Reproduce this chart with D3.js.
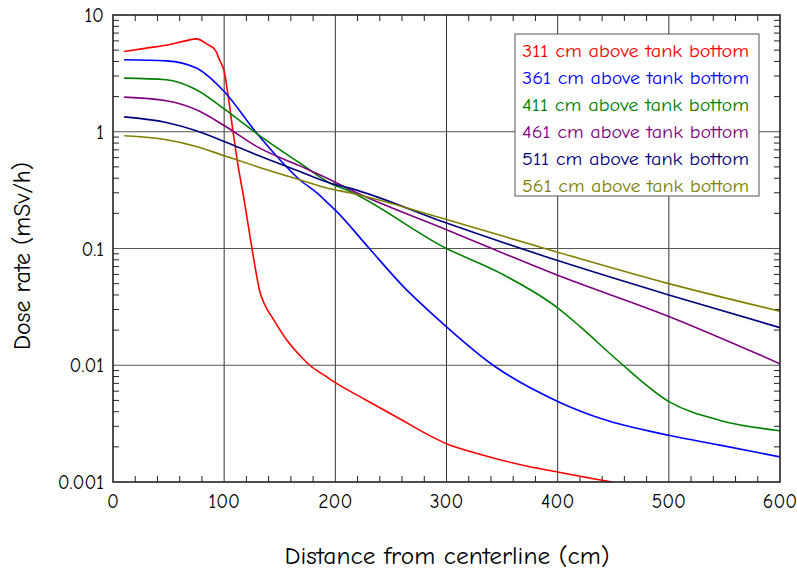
<!DOCTYPE html>
<html><head><meta charset="utf-8">
<script src="https://cdn.jsdelivr.net/npm/d3@7"></script>
<style>body{margin:0;background:#fff}svg{display:block}text{font-family:"Comic Sans MS","Comic Neue","Open Sans",sans-serif}</style>
</head><body><svg id="c" width="797" height="572"></svg>
<script>
const seriesNames = ["311 cm above tank bottom","361 cm above tank bottom","411 cm above tank bottom","461 cm above tank bottom","511 cm above tank bottom","561 cm above tank bottom"];
const seriesColors = ["#ff0000","#0000ff","#008000","#800080","#000080","#808000"];
const s311x = [10,30,50,65,75,85,92,96,100,104,108,112.7,118,125,129,132,136.5,144,156,170,177,191,200,225,255,300,330,375,400,420,449];
const s311y = [4.87,5.2,5.56,6.0,6.25,5.6,5.0,4.1,3.3,1.9,1.0,0.5,0.26,0.1,0.06,0.043,0.033,0.025,0.0166,0.0116,0.01,0.0081,0.0071,0.0052,0.0036,0.00213,0.00173,0.00135,0.00122,0.00112,0.001];
const s361x = [10,48,75,100,129,168,186,190,200,231,261,293,342,400,441,501,546,600];
const s361y = [4.14,4.05,3.51,2.21,0.98,0.388,0.285,0.262,0.213,0.099,0.0474,0.0245,0.01,0.0049,0.00344,0.0025,0.00207,0.00164];
const s411x = [10,48,75,100,129,168,195,210,300,348,400,420,453,501,546,600];
const s411y = [2.88,2.79,2.29,1.57,0.97,0.54,0.364,0.318,0.1,0.0618,0.031,0.0215,0.0112,0.00483,0.00337,0.00275];
const s461x = [10,48,75,100,129,168,195,213,300,400,500,600];
const s461y = [1.98,1.84,1.54,1.13,0.75,0.51,0.39,0.32,0.145,0.059,0.0262,0.0103];
const s511x = [10,48,75,100,129,168,195,213,300,400,500,600];
const s511y = [1.34,1.2,1.02,0.826,0.635,0.457,0.364,0.329,0.165,0.0788,0.04,0.021];
const s561x = [10,48,75,100,129,168,195,213,300,400,500,600];
const s561y = [0.924,0.854,0.749,0.623,0.505,0.388,0.325,0.30,0.177,0.093,0.05,0.029];
const xTicks = [0,100,200,300,400,500,600];
const yTicks = [0.001,0.01,0.1,1,10];
const yTickLabels = ["0.001","0.01","0.1","1","10"];
const xLabel = "Distance from centerline (cm)";
const yLabel = "Dose rate (mSv/h)";

const allX = [s311x,s361x,s411x,s461x,s511x,s561x];
const allY = [s311y,s361y,s411y,s461y,s511y,s561y];

const L=113,R=780,T=15,B=482;
const svg = d3.select("#c");
const x = d3.scaleLinear().domain([0,600]).range([L,R]);
const y = d3.scaleLog().domain([0.001,10]).range([B,T]);

// grid
const g = svg.append("g");
g.selectAll(".vg").data(xTicks.slice(1,-1)).enter().append("line")
 .attr("x1",d=>x(d)).attr("x2",d=>x(d)).attr("y1",T).attr("y2",B)
 .attr("stroke","#333").attr("stroke-width",1);
g.selectAll(".hg").data(yTicks.slice(1,-1)).enter().append("line")
 .attr("x1",L).attr("x2",R).attr("y1",d=>y(d)).attr("y2",d=>y(d))
 .attr("stroke","#555").attr("stroke-width",1.2);

// minor ticks
const xMinor = d3.range(0,601,20).filter(v=>v%100!==0);
const yMinor = [];
for (const dec of [0.001,0.01,0.1,1]) for (let k=2;k<=9;k++) yMinor.push(dec*k);
const tk = svg.append("g").attr("stroke","#222").attr("stroke-width",1);
xMinor.forEach(v=>{
  tk.append("line").attr("x1",x(v)).attr("x2",x(v)).attr("y1",B).attr("y2",B-6);
  tk.append("line").attr("x1",x(v)).attr("x2",x(v)).attr("y1",T).attr("y2",T+6);
});
yMinor.forEach(v=>{
  tk.append("line").attr("x1",L).attr("x2",L+6).attr("y1",y(v)).attr("y2",y(v));
  tk.append("line").attr("x1",R).attr("x2",R-6).attr("y1",y(v)).attr("y2",y(v));
});

// series
const line = d3.line().x(d=>x(d[0])).y(d=>y(d[1])).curve(d3.curveMonotoneX);
svg.append("clipPath").attr("id","pc").append("rect").attr("x",L).attr("y",T).attr("width",R-L).attr("height",B-T);
allX.forEach((xs,i)=>{
  const pts = xs.map((v,j)=>[v,allY[i][j]]);
  svg.append("path").attr("d",line(pts)).attr("fill","none")
   .attr("stroke",seriesColors[i]).attr("stroke-width",1.6).attr("clip-path","url(#pc)");
});

// frame
svg.append("rect").attr("x",L).attr("y",T).attr("width",R-L).attr("height",B-T)
 .attr("fill","none").attr("stroke","#222").attr("stroke-width",1.6);

// tick labels
svg.selectAll(".xl").data(xTicks).enter().append("text")
 .attr("x",d=>x(d)).attr("y",B+26).attr("text-anchor","middle")
 .attr("font-size",19.5).attr("fill","#000").text(d=>d);
svg.selectAll(".yl").data(yTicks).enter().append("text")
 .attr("x",L-9).attr("y",d=>y(d)+7).attr("text-anchor","end")
 .attr("font-size",19.5).attr("fill","#000").text((d,i)=>yTickLabels[i]);

// axis titles
svg.append("text").attr("x",447).attr("y",564).attr("text-anchor","middle")
 .attr("font-size",24).attr("textLength",325).attr("lengthAdjust","spacingAndGlyphs").text(xLabel);
svg.append("text").attr("transform",`translate(30,256) rotate(-90)`).attr("text-anchor","middle")
 .attr("font-size",24).attr("textLength",188).attr("lengthAdjust","spacingAndGlyphs").text(yLabel);

// legend
const lg = svg.append("g");
lg.append("rect").attr("x",515).attr("y",34).attr("width",244).attr("height",162)
 .attr("fill","#fff").attr("stroke","#555").attr("stroke-width",1);
seriesNames.forEach((n,i)=>{
  lg.append("text").attr("x",522).attr("y",57+27*i).attr("font-size",17)
   .attr("fill",seriesColors[i]).attr("textLength",227).attr("lengthAdjust","spacingAndGlyphs").text(n);
});
</script></body></html>
